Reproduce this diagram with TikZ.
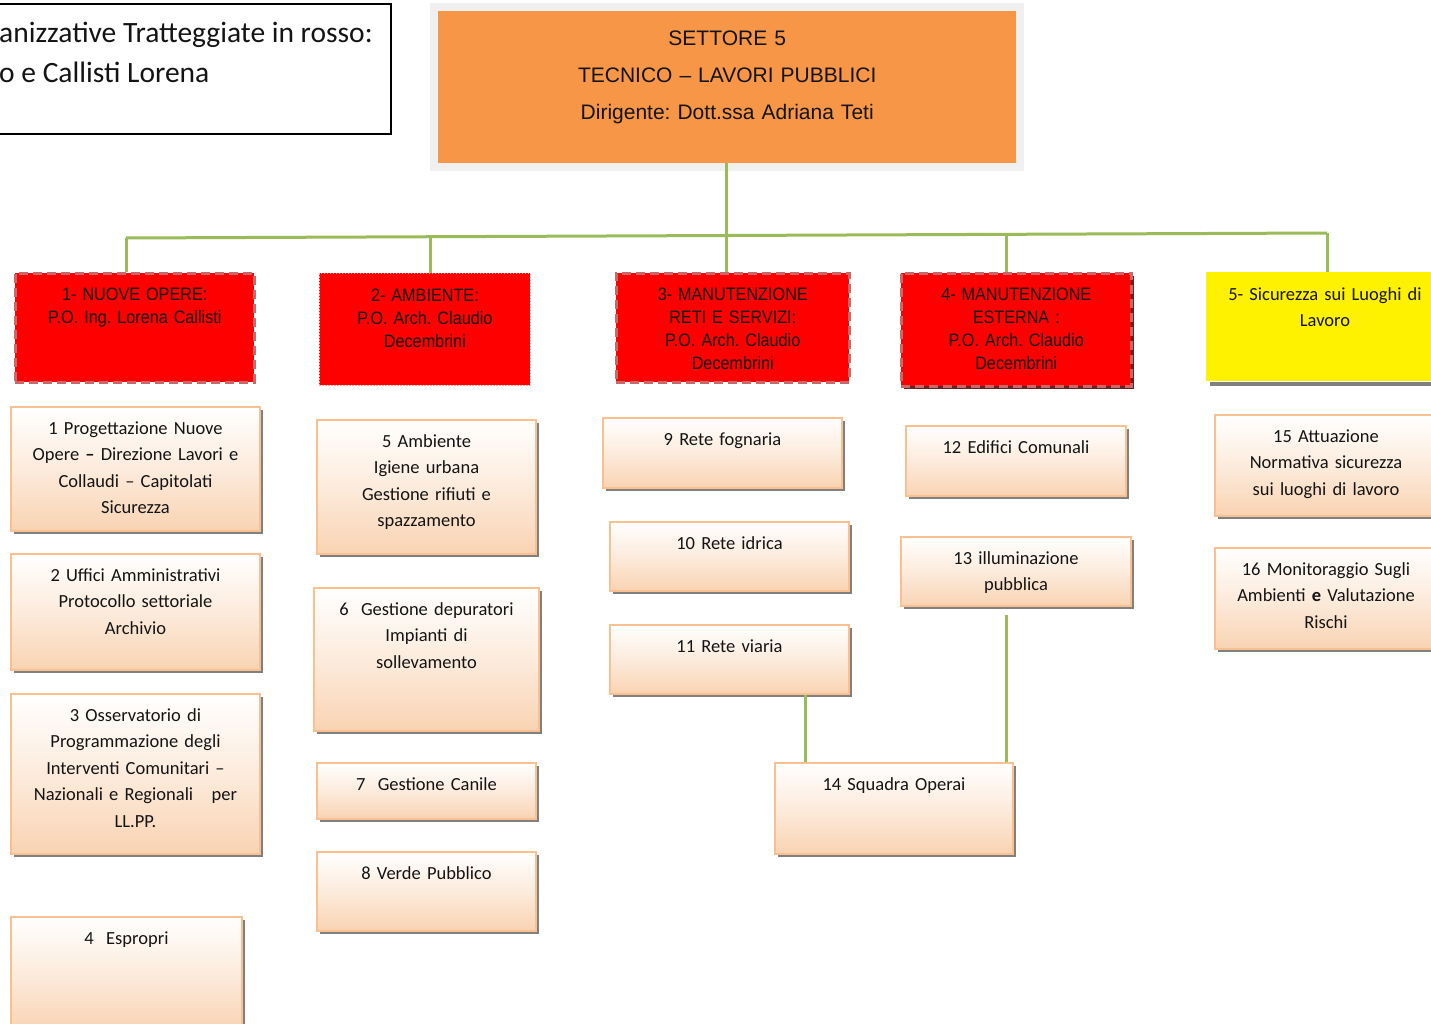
\documentclass[tikz,border=0pt]{standalone}
\usepackage{fontspec}
\setmainfont{Carlito}
\newfontfamily\arialf{Liberation Sans}
\newfontfamily\narrowf[FakeStretch=0.9]{Liberation Sans}
\frenchspacing
\definecolor{orangec}{HTML}{F79646}
\definecolor{framec}{HTML}{F0F0F0}
\definecolor{greenc}{HTML}{9BBB59}
\definecolor{peachb}{HTML}{FAC08F}
\definecolor{peachf}{HTML}{F9D3B2}
\definecolor{shadowc}{HTML}{808080}
\definecolor{dashc}{RGB}{200,105,105}
\definecolor{dotc}{RGB}{240,170,170}
\definecolor{darkred}{HTML}{632523}
\definecolor{txt}{HTML}{141414}
\tikzset{
  conn/.style={draw=greenc, line width=3pt},
  lboxst/.style={draw=peachb, line width=2pt, top color=white, bottom color=peachf, middle color=peachf!45!white, inner sep=0pt},
  ltext/.style={font=\fontsize{18.5}{26.5}\selectfont, text=txt, align=center, inner sep=0pt},
  rboxst/.style={fill=red, draw=dashc, line width=2.5pt, dash pattern=on 9pt off 5pt, inner sep=0pt},
  rtext/.style={font=\narrowf\fontsize{18}{23}\selectfont, text=txt, align=center, inner sep=0pt},
}
\newcommand\lightbox[6]{%
  \fill[shadowc] (#2+4,#3+4) rectangle (#4+4,#5+4);
  \node[lboxst, anchor=north west, minimum width=#4-#2, minimum height=#5-#3] (#1) at (#2,#3) {};
  \node[ltext, text width=#4-#2-4, anchor=base] at ([yshift=-28pt]#1.north) {#6};
}
\newcommand\redbox[7]{%
  \node[rboxst, #7, anchor=north west, minimum width=#4-#2, minimum height=#5-#3] (#1) at (#2,#3) {};
  \node[rtext, text width=#4-#2-4, anchor=base] at ([yshift=-28pt]#1.north) {#6};
}
\begin{document}
\begin{tikzpicture}[x=1pt,y=-1pt]
\useasboundingbox (0,0) rectangle (1431,1024);
\fill[white] (0,0) rectangle (1431,1024);

% legend
\node[draw=black, line width=2pt, anchor=north east, minimum width=420, minimum height=130, inner sep=0pt] (legend) at (392,3) {};
\node[font=\fontsize{29.5}{34}\selectfont, text=txt, anchor=base west, inner sep=0pt] (leg1) at (-1,43) {anizzative Tratteggiate in rosso:};
\node[font=\fontsize{29.5}{34}\selectfont, text=txt, anchor=base west, inner sep=0pt] (leg2) at (-1,83) {o e Callisti Lorena};

% top box
\node[fill=framec, anchor=north west, minimum width=594, minimum height=168, inner sep=0pt] (frame) at (430,3) {};
\node[fill=orangec, anchor=north west, minimum width=578, minimum height=152, inner sep=0pt] (top) at (438,11) {};
\node[font=\arialf\fontsize{21}{37}\selectfont, text=txt, align=center, text width=560, anchor=base, inner sep=0pt] (toptext) at ([yshift=-34.5pt]top.north) {SETTORE 5\\TECNICO – LAVORI PUBBLICI\\Dirigente: Dott.ssa Adriana Teti};

% connectors top
\coordinate (jc) at (726,235.5);
\coordinate (j1) at (126,238);
\coordinate (j2) at (430,236.7);
\coordinate (j3) at (726,235.5);
\coordinate (j4) at (1006,234.3);
\coordinate (j5) at (1327,233);

% red / yellow boxes
\fill[darkred] (904,276) rectangle (1134,389);
\redbox{r1}{14}{272}{253}{381}{1- NUOVE OPERE:\\P.O. Ing. Lorena Callisti}{}
\redbox{r2}{319}{273}{530}{385}{2- AMBIENTE:\\P.O. Arch. Claudio\\Decembrini}{draw=dotc, line width=0.8pt, dash pattern=on 1.5pt off 1.5pt}
\redbox{r3}{615}{272}{848}{381}{3- MANUTENZIONE\\RETI E SERVIZI:\\P.O. Arch. Claudio\\Decembrini}{}
\redbox{r4}{900}{272}{1130}{385}{4- MANUTENZIONE\\ESTERNA :\\P.O. Arch. Claudio\\Decembrini}{}
\fill[shadowc] (1210,382) rectangle (1440,386);
\node[fill=yellow, anchor=north west, minimum width=235, minimum height=109, inner sep=0pt] (r5) at (1206,272) {};
\node[ltext, text width=225, anchor=base] (r5t) at ([yshift=-28pt]r5.north -| 1325,0) {5- Sicurezza sui Luoghi di\\Lavoro};

\draw[conn] (top.south -| jc) -- (jc);
\draw[conn] (j1) -- (j5);
\draw[conn] (j1) -- (j1 |- r1.north);
\draw[conn] (j2) -- (j2 |- r2.north);
\draw[conn] (j3) -- (j3 |- r3.north);
\draw[conn] (j4) -- (j4 |- r4.north);
\draw[conn] (j5) -- (j5 |- r5.north);

% column 1
\lightbox{b1}{10}{406}{259}{530}{1 Progettazione Nuove\\Opere \textbf{–} Direzione Lavori e\\Collaudi – Capitolati\\Sicurezza}
\lightbox{b2}{10}{553}{259}{669}{2 Uffici Amministrativi\\Protocollo settoriale\\Archivio}
\lightbox{b3}{10}{693}{259}{853}{3 Osservatorio di\\Programmazione degli\\Interventi Comunitari –\\Nazionali e Regionali~~ per\\LL.PP.}
\lightbox{b4}{10}{916}{241}{1030}{4~ Espropri}
% column 2
\lightbox{b5}{316}{419}{535}{553}{5 Ambiente\\Igiene urbana\\Gestione rifiuti e\\spazzamento}
\lightbox{b6}{313}{587}{538}{730}{6~ Gestione depuratori\\Impianti di\\sollevamento}
\lightbox{b7}{316}{762}{535}{818}{7~ Gestione Canile}
\lightbox{b8}{316}{851}{535}{930}{8 Verde Pubblico}
% column 3
\lightbox{b9}{602}{417}{841}{487}{9 Rete fognaria}
\lightbox{b10}{609}{521}{848}{590}{10 Rete idrica}
\lightbox{b11}{609}{624}{848}{693}{11 Rete viaria}
% column 4
\lightbox{b12}{905}{425}{1125}{495}{12 Edifici Comunali}
\lightbox{b13}{900}{536}{1130}{605}{13 illuminazione\\pubblica}
\lightbox{b14}{774}{762}{1012}{853}{14 Squadra Operai}
% column 5
\lightbox{b15}{1214}{414}{1436}{515}{15 Attuazione\\Normativa sicurezza\\sui luoghi di lavoro}
\lightbox{b16}{1214}{547}{1436}{648}{16 Monitoraggio Sugli\\Ambienti \textbf{e} Valutazione\\Rischi}

% squadra operai connectors
\coordinate (c1) at (805,0);
\coordinate (c2) at (1006,615);
\draw[conn] (b11.south -| c1) -- (b14.north -| c1);
\draw[conn] (c2) -- (c2 |- b14.north);
\end{tikzpicture}
\end{document}
